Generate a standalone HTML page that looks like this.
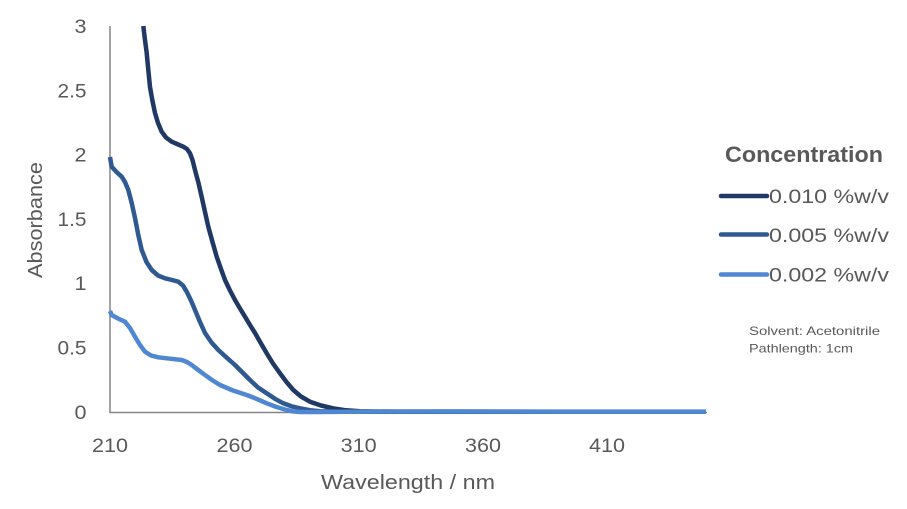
<!DOCTYPE html>
<html>
<head>
<meta charset="utf-8">
<style>
html,body{margin:0;padding:0;background:#fff;}
svg{display:block;}
text{font-family:"Liberation Sans",Arial,sans-serif;fill:#595959;}
</style>
</head>
<body>
<svg width="907" height="509" viewBox="0 0 907 509" xmlns="http://www.w3.org/2000/svg">
  <rect width="907" height="509" fill="#fff"/>
  <!-- axes -->
  <line x1="110" y1="26" x2="110" y2="412.5" stroke="#868686" stroke-width="1.5"/>
  <line x1="109.3" y1="412.5" x2="707" y2="412.5" stroke="#868686" stroke-width="1.5"/>

  <!-- y tick labels -->
  <g font-size="19" text-anchor="end">
    <text x="86.5" y="33" textLength="12" lengthAdjust="spacingAndGlyphs">3</text>
    <text x="86.5" y="97.5" textLength="29" lengthAdjust="spacingAndGlyphs">2.5</text>
    <text x="86.5" y="161.5" textLength="12" lengthAdjust="spacingAndGlyphs">2</text>
    <text x="86.5" y="226" textLength="29" lengthAdjust="spacingAndGlyphs">1.5</text>
    <text x="86.5" y="290" textLength="12" lengthAdjust="spacingAndGlyphs">1</text>
    <text x="86.5" y="354.5" textLength="29" lengthAdjust="spacingAndGlyphs">0.5</text>
    <text x="86.5" y="419" textLength="12" lengthAdjust="spacingAndGlyphs">0</text>
  </g>
  <!-- x tick labels -->
  <g font-size="19" text-anchor="middle">
    <text x="110" y="452" textLength="36" lengthAdjust="spacingAndGlyphs">210</text>
    <text x="234.5" y="452" textLength="36" lengthAdjust="spacingAndGlyphs">260</text>
    <text x="358.7" y="452" textLength="36" lengthAdjust="spacingAndGlyphs">310</text>
    <text x="483" y="452" textLength="36" lengthAdjust="spacingAndGlyphs">360</text>
    <text x="607" y="452" textLength="36" lengthAdjust="spacingAndGlyphs">410</text>
  </g>
  <text x="408" y="489" font-size="20" text-anchor="middle" textLength="174" lengthAdjust="spacingAndGlyphs">Wavelength / nm</text>
  <text transform="translate(42,220) rotate(-90)" font-size="20" text-anchor="middle" textLength="116" lengthAdjust="spacingAndGlyphs">Absorbance</text>

  <!-- series -->
  <g fill="none" stroke-width="4.5" stroke-linejoin="round" stroke-linecap="butt">
    <polyline stroke="#203864" points="143.3,26 145,40 146.7,53 148.3,70 150,87 152.5,101 155,113 158,123 161.7,131.7 166,137.5 171.7,141.7 177,144 183.3,146.7 187,149 190,153.3 192.5,160 195,170 198.5,183 201.7,197 205,212 208.3,226.7 212.5,242 216.7,256.7 221,269 225,280 230,290.5 235,300 240,308.5 245,316.7 250,325 255,333 261,343.5 266.7,353.3 273,363.5 280,373.3 286.5,382 293.3,390 301,396.5 310,401.7 321,405.5 333,408.3 346,410.3 360,411.3 400,411.8 706,411.8"/>
    <polyline stroke="#2E5A91" points="110,157 111.7,166.7 116.5,172 121.7,176.7 125,182 128.3,190 131.7,203 135,218 138.3,235 141.7,250 146.5,262 151.7,270 158,275.5 165,278.3 172,280 178.3,281.7 183,285.5 186.7,291.7 191,300.5 195,310 200,322 205,333 211.5,342.5 218.3,350 226.5,357.5 235,365 242.5,372.5 250,380 258,387.5 266.7,393.3 275,398.8 283.3,403.3 291.5,406.3 300,408.3 310,410.2 320,411.2 340,411.8 706,411.8"/>
    <polyline stroke="#4F87D1" points="110,311 111.7,315 118,318.5 125,321.7 130,328 135,336.7 140,345 145,351.7 151,355.5 158.3,357.3 170,358.7 181.7,360 187,362 191.7,365 198,369.8 205,375 212,380 220,385 233,390.5 246.7,395 256.5,398.8 266.7,403.3 276.5,407 286.7,410 293,411.4 300,412 320,412 360,411.6 450,411.4 550,411.6 706,411.6"/>
  </g>

  <!-- legend -->
  <text x="725" y="162" font-size="22" font-weight="bold" textLength="158" lengthAdjust="spacingAndGlyphs">Concentration</text>
  <g stroke-width="4.5" stroke-linecap="round">
    <line x1="721" y1="196" x2="767" y2="196" stroke="#203864"/>
    <line x1="721" y1="234.5" x2="767" y2="234.5" stroke="#2E5A91"/>
    <line x1="721" y1="274.5" x2="767" y2="274.5" stroke="#4F87D1"/>
  </g>
  <g font-size="19">
    <text x="769" y="203" textLength="120" lengthAdjust="spacingAndGlyphs">0.010 %w/v</text>
    <text x="769" y="242" textLength="120" lengthAdjust="spacingAndGlyphs">0.005 %w/v</text>
    <text x="769" y="281.5" textLength="120" lengthAdjust="spacingAndGlyphs">0.002 %w/v</text>
  </g>
  <g font-size="12">
    <text x="749" y="335" textLength="131" lengthAdjust="spacingAndGlyphs">Solvent: Acetonitrile</text>
    <text x="749" y="352.5" textLength="104" lengthAdjust="spacingAndGlyphs">Pathlength: 1cm</text>
  </g>
</svg>
</body>
</html>
